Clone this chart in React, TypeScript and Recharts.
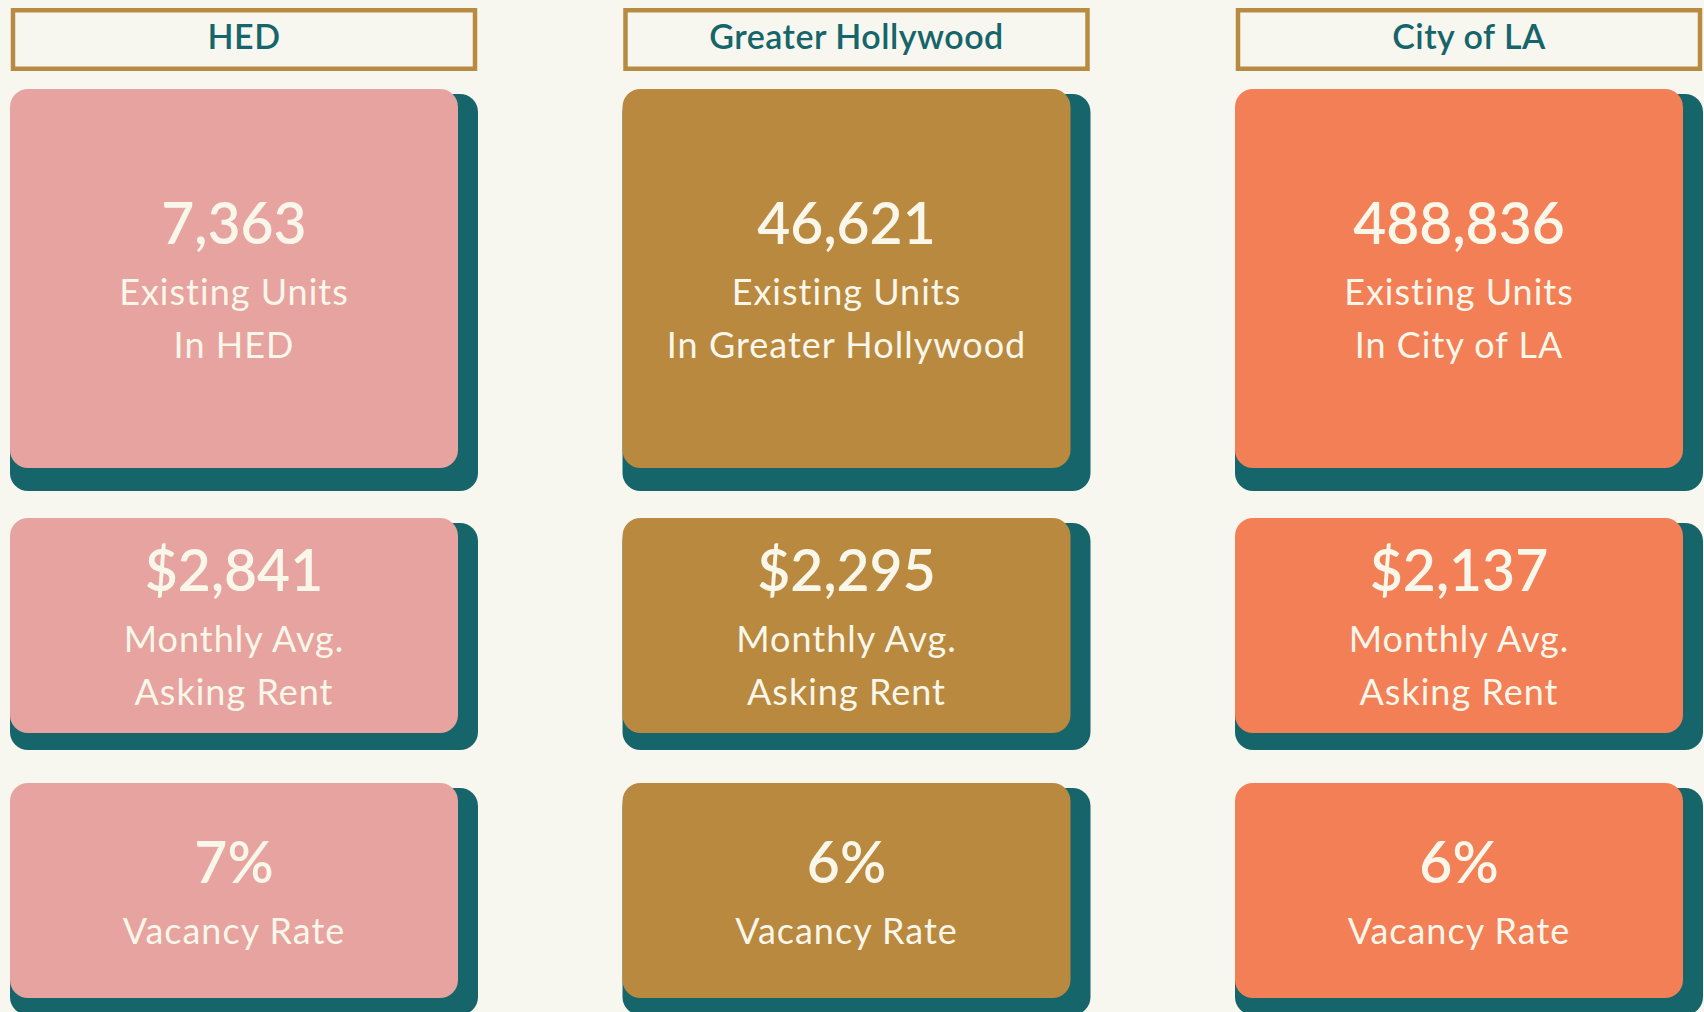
import { ScatterChart, Scatter, XAxis, YAxis } from 'recharts';

const REGIONS = ['HED', 'Greater Hollywood', 'City of LA'];
const EXISTING_UNITS = [7363, 46621, 488836];
const AVG_ASKING_RENT = [2841, 2295, 2137];
const VACANCY_RATE = [7, 6, 6];

const CARD_COLORS = ['#e7a39f', '#b8893f', '#f27f56'];
const SHADOW = '#16656a';
const BG = '#f8f7ef';
const CREAM = '#f9f6ea';
const BORDER = '#b88b42';
const FONT = 'Lato, "Open Sans", sans-serif';

type Cell = { region: string; metric: string; value: string; labels: string[] };

const unitsData: Cell[] = REGIONS.map((r, i) => ({
  region: r,
  metric: 'Existing Units',
  value: EXISTING_UNITS[i].toLocaleString('en-US'),
  labels: ['Existing Units', `In ${r}`],
}));

const rentData: Cell[] = REGIONS.map((r, i) => ({
  region: r,
  metric: 'Monthly Avg. Asking Rent',
  value: '$' + AVG_ASKING_RENT[i].toLocaleString('en-US'),
  labels: ['Monthly Avg.', 'Asking Rent'],
}));

const vacancyData: Cell[] = REGIONS.map((r, i) => ({
  region: r,
  metric: 'Vacancy Rate',
  value: VACANCY_RATE[i] + '%',
  labels: ['Vacancy Rate'],
}));

// card + drop shadow, centred on the scatter point
function makeCard(cardH: number, drop: number) {
  return (props: any) => {
    const { cx, cy, payload } = props;
    const idx = REGIONS.indexOf(payload.region);
    const top = cy - cardH / 2;
    const tx = cx - 10;
    const shift = -(payload.labels.length - 1) * 26.5;
    return (
      <g>
        <rect x={cx - 234} y={top + 5} width={468} height={cardH - 5 + drop} rx={18} fill={SHADOW} />
        <rect x={cx - 234} y={top} width={448} height={cardH} rx={18} fill={CARD_COLORS[idx]} />
        <text
          x={tx}
          y={cy - 8 + shift}
          textAnchor="middle"
          fill={CREAM}
          fontSize={57}
          fontWeight={600}
          fontFamily={FONT}
        >
          {payload.value}
        </text>
        {payload.labels.map((l: string, i: number) => (
          <text
            key={i}
            x={tx}
            y={cy + 53 + i * 53 + shift}
            textAnchor="middle"
            fill={CREAM}
            fontSize={36}
            fontFamily={FONT}
            letterSpacing={1}
          >
            {l}
          </text>
        ))}
      </g>
    );
  };
}

function HeaderTick(props: any) {
  const { x, payload } = props;
  return (
    <g>
      <rect x={x - 231} y={10.25} width={462} height={58.5} fill={BG} stroke={BORDER} strokeWidth={4.5} />
      <text
        x={x}
        y={49}
        textAnchor="middle"
        fill={SHADOW}
        fontSize={34}
        fontWeight={600}
        fontFamily={FONT}
        letterSpacing={0.5}
      >
        {payload.value}
      </text>
    </g>
  );
}

const ROWS = [
  { data: unitsData, height: 500, margin: { top: 0, right: 235, bottom: 32, left: 244 }, cardH: 379, drop: 23, header: true },
  { data: rentData, height: 260, margin: { top: 18, right: 235, bottom: 27, left: 244 }, cardH: 215, drop: 17, header: false },
  { data: vacancyData, height: 252, margin: { top: 23, right: 235, bottom: 14, left: 244 }, cardH: 215, drop: 17, header: false },
];

export default function App() {
  return (
    <div style={{ position: 'absolute', left: 0, top: 0, width: 1704, height: 1012, background: BG, overflow: 'hidden' }}>
      {ROWS.map((row, r) => (
        <ScatterChart key={r} width={1704} height={row.height} margin={row.margin} style={{ display: 'block' }}>
          <XAxis
            dataKey="region"
            type="category"
            scale="point"
            allowDuplicatedCategory={false}
            orientation="top"
            height={89}
            hide={!row.header}
            tick={<HeaderTick />}
            tickLine={false}
            axisLine={false}
            interval={0}
          />
          <YAxis dataKey="metric" type="category" scale="point" allowDuplicatedCategory={false} hide />
          <Scatter data={row.data} shape={makeCard(row.cardH, row.drop)} isAnimationActive={false} />
        </ScatterChart>
      ))}
    </div>
  );
}
